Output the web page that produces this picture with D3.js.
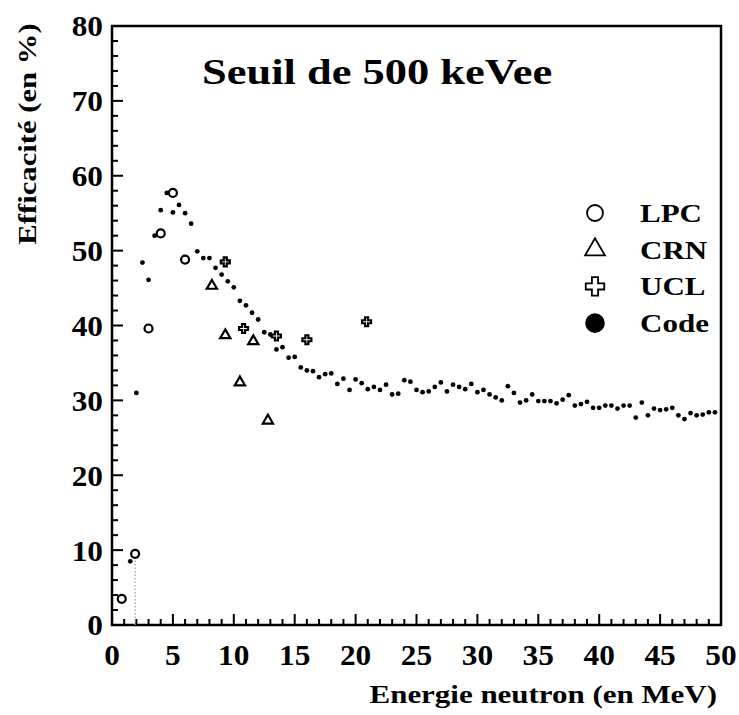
<!DOCTYPE html>
<html>
<head>
<meta charset="utf-8">
<script src="https://cdn.jsdelivr.net/npm/d3@7"></script>
<style>
  body { margin: 0; background: #fff; }
  text { font-family: "Liberation Serif", "Times New Roman", serif; font-weight: bold; fill: #000; }
</style>
</head>
<body>
<div id="chart"></div>
<script>
// LPC measurements (open circles)
const lpcEnergy = [0.8, 1.9, 3.0, 4.0, 5.0, 6.0];
const lpcEff = [3.5, 9.5, 39.6, 52.3, 57.7, 48.8];

// CRN measurements (open triangles)
const crnEnergy = [8.2, 9.3, 10.5, 11.6, 12.8];
const crnEff = [45.3, 38.7, 32.4, 37.9, 27.3];

// UCL measurements (open crosses)
const uclEnergy = [9.3, 10.8, 13.5, 16.0, 20.9];
const uclEff = [48.5, 39.6, 38.6, 38.1, 40.5];

// Simulation code (small dots)
const codeEnergy = [1.5, 2.0, 2.5, 3.0, 3.5, 4.0, 4.5, 5.0, 5.5, 6.0, 6.5, 7.0, 7.5, 8.0, 8.5, 9.0, 9.5,
  10.0, 10.5, 11.0, 11.5, 12.0, 12.5, 13.0, 13.5, 14.0, 14.5, 15.0, 15.5, 16.0, 16.5, 17.0, 17.5,
  18.0, 18.5, 19.0, 19.5, 20.0, 20.5, 21.0, 21.5, 22.0, 22.5, 23.0, 23.5, 24.0, 24.5, 25.0, 25.5,
  26.0, 26.5, 27.0, 27.5, 28.0, 28.5, 29.0, 29.5, 30.0, 30.5, 31.0, 31.5, 32.0, 32.5, 33.0, 33.5,
  34.0, 34.5, 35.0, 35.5, 36.0, 36.5, 37.0, 37.5, 38.0, 38.5, 39.0, 39.5, 40.0, 40.5, 41.0, 41.5,
  42.0, 42.5, 43.0, 43.5, 44.0, 44.5, 45.0, 45.5, 46.0, 46.5, 47.0, 47.5, 48.0, 48.5, 49.0, 49.5];
const codeEff = [8.5, 31.0, 48.4, 46.1, 52.0, 55.4, 57.7, 55.1, 56.1, 55.0, 53.6, 49.9, 49.0, 49.0, 47.7, 46.8, 45.9,
  45.1, 43.3, 42.7, 41.7, 40.8, 39.1, 38.8, 36.8, 37.1, 35.7, 35.8, 34.4, 34.0, 33.9, 33.1, 33.5,
  33.6, 32.2, 32.9, 31.4, 32.8, 32.3, 31.5, 31.8, 31.4, 32.1, 30.8, 30.9, 32.7, 32.5, 31.4, 31.1,
  31.2, 31.8, 32.4, 31.2, 32.1, 31.8, 31.5, 32.2, 31.1, 31.4, 30.8, 30.4, 30.0, 31.9, 31.0, 29.7,
  30.0, 30.8, 29.9, 29.9, 29.9, 29.6, 30.1, 30.7, 29.3, 29.5, 29.8, 29.0, 29.0, 29.3, 29.3, 28.9,
  29.3, 29.3, 27.7, 29.7, 28.0, 28.9, 28.7, 28.8, 29.0, 28.0, 27.5, 28.3, 28.0, 28.1, 28.4, 28.4];

const xTicks = [0, 5, 10, 15, 20, 25, 30, 35, 40, 45, 50];
const yTicks = [0, 10, 20, 30, 40, 50, 60, 70, 80];
const legendLabels = ['LPC', 'CRN', 'UCL', 'Code'];

const width = 739, height = 715;
const margin = { top: 26, right: 18, bottom: 90, left: 112 };

const svg = d3.select('#chart')
  .append('svg')
  .attr('width', width)
  .attr('height', height);

const x = d3.scaleLinear().domain([0, 50]).range([margin.left, width - margin.right]);
const y = d3.scaleLinear().domain([0, 80]).range([height - margin.bottom, margin.top]);

// the scanned Times Bold is wider than Liberation Serif, stretch a bit
function widen(sel, factor) {
  sel.each(function () {
    const len = this.getComputedTextLength();
    d3.select(this).attr('textLength', len * factor).attr('lengthAdjust', 'spacingAndGlyphs');
  });
}

// Frame
svg.append('rect')
  .attr('x', x(0)).attr('y', y(80))
  .attr('width', x(50) - x(0)).attr('height', y(0) - y(80))
  .attr('fill', 'none').attr('stroke', '#000').attr('stroke-width', 2.5);

// Inward ticks
const xMinor = d3.range(0, 51, 1);
const yMinor = d3.range(0, 81, 2);
svg.append('g').selectAll('line')
  .data(xMinor).join('line')
  .attr('x1', d => x(d)).attr('x2', d => x(d))
  .attr('y1', y(0)).attr('y2', d => y(0) - (d % 5 === 0 ? 11 : 6))
  .attr('stroke', '#000').attr('stroke-width', 2);
svg.append('g').selectAll('line')
  .data(yMinor).join('line')
  .attr('y1', d => y(d)).attr('y2', d => y(d))
  .attr('x1', x(0)).attr('x2', d => x(0) + (d % 10 === 0 ? 11 : 6))
  .attr('stroke', '#000').attr('stroke-width', 2);

// Tick labels
svg.append('g').selectAll('text')
  .data(xTicks).join('text')
  .attr('x', d => x(d)).attr('y', 665)
  .attr('text-anchor', 'middle')
  .style('font-size', '29px')
  .text(d => d)
  .call(widen, 1.08);
svg.append('g').selectAll('text')
  .data(yTicks).join('text')
  .attr('x', x(0) - 9).attr('y', d => y(d))
  .attr('dy', '0.36em')
  .attr('text-anchor', 'end')
  .style('font-size', '29px')
  .text(d => d)
  .call(widen, 1.08);

// Axis titles
svg.append('text')
  .attr('x', 717).attr('y', 703)
  .attr('text-anchor', 'end')
  .style('font-size', '26px')
  .text('Energie neutron (en MeV)')
  .call(widen, 1.19);
svg.append('text')
  .attr('transform', 'translate(36,134) rotate(-90)')
  .attr('text-anchor', 'middle')
  .style('font-size', '26px')
  .text('Efficacité (en %)')
  .call(widen, 1.18);

// Title
svg.append('text')
  .attr('x', 202).attr('y', 84)
  .style('font-size', '35px')
  .text('Seuil de 500 keVee')
  .call(widen, 1.27);

// Faint dotted error line under the 2 MeV LPC point
svg.append('line')
  .attr('x1', x(lpcEnergy[1])).attr('x2', x(lpcEnergy[1]))
  .attr('y1', y(0)).attr('y2', y(lpcEff[1]) + 5)
  .attr('stroke', '#999').attr('stroke-width', 1.2)
  .attr('stroke-dasharray', '1.5,2');

// Code dots
svg.append('g').selectAll('circle')
  .data(codeEnergy.map((e, i) => [e, codeEff[i]])).join('circle')
  .attr('cx', d => x(d[0])).attr('cy', d => y(d[1]))
  .attr('r', 2.4).attr('fill', '#000');

// LPC circles
svg.append('g').selectAll('circle')
  .data(lpcEnergy.map((e, i) => [e, lpcEff[i]])).join('circle')
  .attr('cx', d => x(d[0])).attr('cy', d => y(d[1]))
  .attr('r', 4).attr('fill', 'none')
  .attr('stroke', '#000').attr('stroke-width', 2.2);

// CRN triangles
const tri = d3.symbol().type(d3.symbolTriangle).size(45);
svg.append('g').selectAll('path')
  .data(crnEnergy.map((e, i) => [e, crnEff[i]])).join('path')
  .attr('d', tri)
  .attr('transform', d => `translate(${x(d[0])},${y(d[1])})`)
  .attr('fill', 'none').attr('stroke', '#000').attr('stroke-width', 2.2);

// UCL crosses
const cross = d3.symbol().type(d3.symbolCross).size(45);
svg.append('g').selectAll('path')
  .data(uclEnergy.map((e, i) => [e, uclEff[i]])).join('path')
  .attr('d', cross)
  .attr('transform', d => `translate(${x(d[0])},${y(d[1])})`)
  .attr('fill', 'none').attr('stroke', '#000').attr('stroke-width', 2.2);

// Legend
const legend = svg.append('g').attr('transform', 'translate(595,213)');
const legendSymbols = [
  d3.symbol().type(d3.symbolCircle).size(200)(),
  d3.symbol().type(d3.symbolTriangle).size(170)(),
  d3.symbol().type(d3.symbolCross).size(190)(),
  d3.symbol().type(d3.symbolCircle).size(250)()
];
legendLabels.forEach((label, i) => {
  const row = legend.append('g').attr('transform', `translate(0,${i * 36.7})`);
  row.append('path')
    .attr('d', legendSymbols[i])
    .attr('fill', i === 3 ? '#000' : 'none')
    .attr('stroke', '#000').attr('stroke-width', 1.8);
  row.append('text')
    .attr('x', 45).attr('y', 0)
    .attr('dy', '0.36em')
    .style('font-size', '25px')
    .text(label)
    .call(widen, 1.24);
});
</script>
</body>
</html>
